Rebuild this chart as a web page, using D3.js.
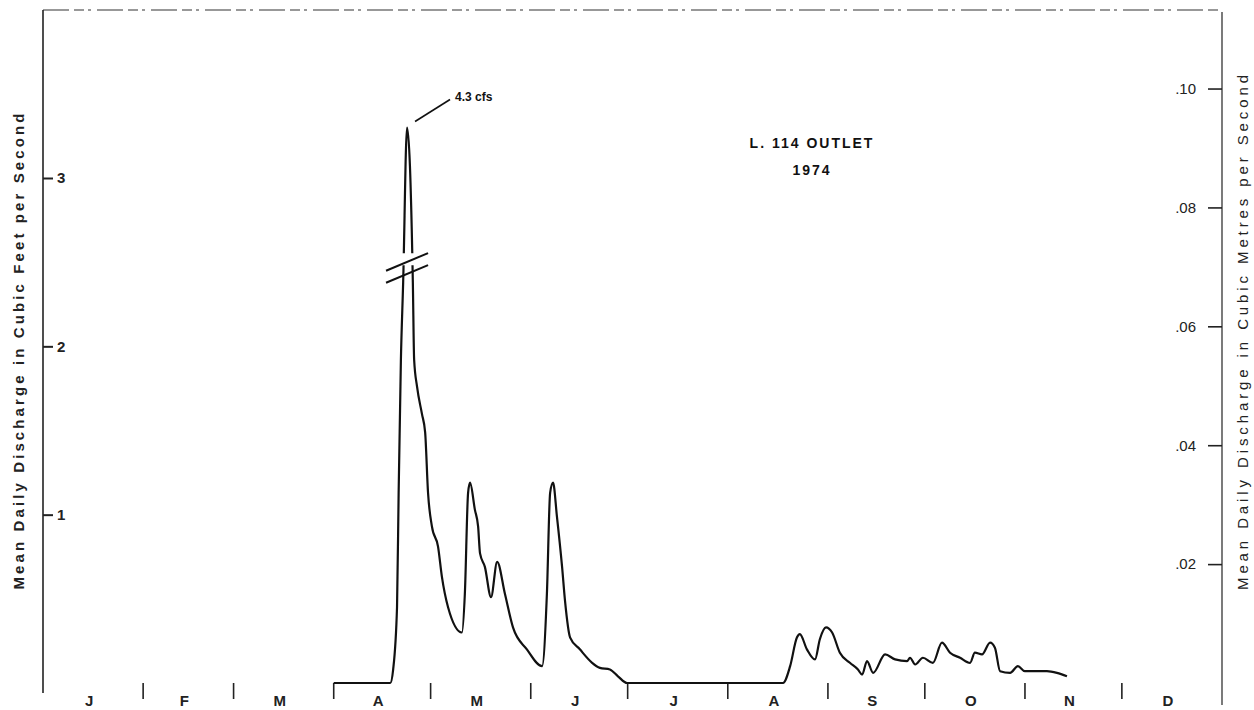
<!DOCTYPE html>
<html>
<head>
<meta charset="utf-8">
<script src="https://cdn.jsdelivr.net/npm/d3@7"></script>
<style>
  body { margin: 0; background: #fff; }
  svg { display: block; font-family: "Liberation Sans", Arial, sans-serif; }
</style>
</head>
<body>
<script>
const days = [90, 107.5, 108.4, 109.6, 110.1, 110.8, 111.5, 112.7, 114.5, 114.9, 115.8, 117.3, 118.3, 119.2,
  120.4, 122.3, 123.5, 125.4, 129.7, 130.6, 131.6, 132.2, 133.7, 134.7, 135.3, 136.8, 138.7, 140.6, 143.0,
  145.5, 149.8, 154.5, 156.0, 157.0, 157.9, 159.1, 160.7, 161.6, 163.2, 166.2, 170.0, 172.4, 175.5, 178.0,
  180.8, 229.1, 231.3, 233.4, 234.3, 236.5, 239.0, 240.5, 242.4, 244.3, 246.7, 249.8, 252.3, 253.6, 255.1,
  257.0, 260.7, 263.8, 267.5, 268.4, 270.0, 272.4, 275.5, 278.3, 280.8, 283.9, 287.0, 288.5, 290.7, 293.2,
  294.7, 296.3, 299.4, 301.8, 304.0, 306.5, 310.8, 313.9, 317.0];
const cfs = [0, 0, 0.08, 0.45, 1.13, 1.92, 2.38, 4.3, 2.38, 1.92, 1.76, 1.60, 1.49, 1.13,
  0.93, 0.81, 0.63, 0.45, 0.30, 0.53, 1.13, 1.19, 1.03, 0.93, 0.77, 0.69, 0.51, 0.72, 0.53,
  0.33, 0.20, 0.10, 0.53, 1.13, 1.19, 0.99, 0.69, 0.49, 0.27, 0.20, 0.12, 0.09, 0.08, 0.04,
  0, 0, 0.10, 0.27, 0.29, 0.20, 0.14, 0.26, 0.33, 0.30, 0.18, 0.12, 0.08, 0.05, 0.13,
  0.06, 0.17, 0.14, 0.13, 0.15, 0.11, 0.15, 0.12, 0.24, 0.18, 0.15, 0.12, 0.18, 0.17, 0.24,
  0.21, 0.07, 0.06, 0.10, 0.07, 0.07, 0.07, 0.06, 0.04];

const monthLabels = ["J", "F", "M", "A", "M", "J", "J", "A", "S", "O", "N", "D"];
const leftTicks = [1, 2, 3];
const rightTicks = [0.02, 0.04, 0.06, 0.08, 0.10];
const peakLabel = "4.3 cfs";
const breakAt = 2.43;      // cfs where the axis is broken
const peakDrawnAt = 3.3;   // where the 4.3 cfs peak sits on the drawing
const title = ["L. 114 OUTLET", "1974"];

const CFS_TO_CMS = 0.0283168;
const width = 1254, height = 710;
const margin = ({ top: 10, right: 32, bottom: 27, left: 43 });

const t0 = new Date(1974, 0, 1), t1 = new Date(1975, 0, 1);
const dayToDate = d => new Date(t0.getTime() + d * 864e5);

const x = d3.scaleTime()
  .domain([t0, t1])
  .range([margin.left, width - margin.right]);

const y = d3.scaleLinear()
  .domain([0, 3])
  .range([height - margin.bottom, 178]);

const yR = d3.scaleLinear()
  .domain([0, 3 * CFS_TO_CMS])
  .range(y.range());

// the line is drawn through a broken scale above breakAt
const yLine = d3.scaleLinear()
  .domain([0, breakAt, 4.3])
  .range([y(0), y(breakAt), y(peakDrawnAt)]);

const data = days.map((d, i) => ({ date: dayToDate(d), v: cfs[i] }));

const svg = d3.select("body").append("svg")
  .attr("width", width)
  .attr("height", height)
  .attr("viewBox", [0, 0, width, height]);

// top border, faint and broken
svg.append("line")
  .attr("x1", margin.left).attr("x2", width - margin.right)
  .attr("y1", margin.top).attr("y2", margin.top)
  .attr("stroke", "#777").attr("stroke-width", 1.3)
  .attr("stroke-dasharray", "26 5 10 4 3 6");

// left axis
svg.append("line")
  .attr("x1", margin.left).attr("x2", margin.left)
  .attr("y1", margin.top).attr("y2", 693)
  .attr("stroke", "#222").attr("stroke-width", 1.6);

svg.append("g")
  .attr("transform", `translate(${margin.left},0)`)
  .call(d3.axisRight(y).tickValues(leftTicks).tickSize(10).tickPadding(4).tickFormat(d3.format("d")))
  .call(g => g.select(".domain").remove())
  .call(g => g.selectAll("line").attr("stroke", "#222").attr("stroke-width", 2))
  .call(g => g.selectAll("text").attr("font-size", 15).attr("font-weight", "bold").attr("fill", "#222"));

// right axis
svg.append("line")
  .attr("x1", width - margin.right).attr("x2", width - margin.right)
  .attr("y1", 12).attr("y2", 705)
  .attr("stroke", "#333").attr("stroke-width", 1.3);

svg.append("g")
  .attr("transform", `translate(${width - margin.right},0)`)
  .call(d3.axisLeft(yR).tickValues(rightTicks).tickSize(14).tickPadding(12)
    .tickFormat(d => d3.format(".2f")(d).replace(/^0/, "")))
  .call(g => g.select(".domain").remove())
  .call(g => g.selectAll("line").attr("stroke", "#222").attr("stroke-width", 1.6))
  .call(g => g.selectAll("text").attr("font-size", 15).attr("fill", "#222"));

// axis titles
svg.append("text")
  .attr("transform", `translate(24,${(590 + 113) / 2}) rotate(-90)`)
  .attr("text-anchor", "middle")
  .attr("font-size", 15).attr("font-weight", "bold").attr("fill", "#222")
  .attr("textLength", 476).attr("lengthAdjust", "spacing")
  .text("Mean Daily Discharge in Cubic Feet per Second");

svg.append("text")
  .attr("transform", `translate(1248,${(590 + 75) / 2}) rotate(-90)`)
  .attr("text-anchor", "middle")
  .attr("font-size", 15).attr("fill", "#222")
  .attr("textLength", 515).attr("lengthAdjust", "spacing")
  .text("Mean Daily Discharge in Cubic Metres per Second");

// month separators and labels
const months = d3.timeMonth.range(t0, t1);
svg.append("g")
  .selectAll("line")
  .data(months.slice(1))
  .join("line")
  .attr("x1", d => x(d)).attr("x2", d => x(d))
  .attr("y1", y(0)).attr("y2", 699)
  .attr("stroke", "#222").attr("stroke-width", 1.6);

svg.append("g")
  .selectAll("text")
  .data(months)
  .join("text")
  .attr("x", d => (x(d) + x(d3.timeMonth.offset(d, 1))) / 2 - 4)
  .attr("y", 706)
  .attr("text-anchor", "middle")
  .attr("font-size", 15).attr("font-weight", "bold").attr("fill", "#222")
  .text((d, i) => monthLabels[i]);

// hydrograph
const line = d3.line()
  .x(d => x(d.date))
  .y(d => yLine(d.v))
  .curve(d3.curveMonotoneX);

svg.append("path")
  .datum(data)
  .attr("fill", "none")
  .attr("stroke", "#111")
  .attr("stroke-width", 2.2)
  .attr("stroke-linejoin", "round")
  .attr("d", line);

// axis break marks across the peak
const peak = data[d3.maxIndex(data, d => d.v)];
const bx = x(peak.date), by = yLine(breakAt) - 6;
const slope = -0.42, half = 21, gap = 6;
svg.append("path")
  .attr("fill", "#fff")
  .attr("d", `M${bx - half},${by - gap - slope * -half}L${bx + half},${by - gap + slope * half}`
    + `L${bx + half},${by + gap + slope * half}L${bx - half},${by + gap - slope * -half}Z`);
[-gap, gap].forEach(o => {
  svg.append("line")
    .attr("x1", bx - half).attr("y1", by + o - slope * half)
    .attr("x2", bx + half).attr("y2", by + o + slope * half)
    .attr("stroke", "#111").attr("stroke-width", 2);
});

// peak annotation
const px = x(peak.date), py = yLine(peak.v);
svg.append("line")
  .attr("x1", px + 8).attr("y1", py - 6)
  .attr("x2", px + 43).attr("y2", py - 28)
  .attr("stroke", "#111").attr("stroke-width", 1.6);
svg.append("text")
  .attr("x", px + 48).attr("y", py - 27)
  .attr("font-size", 12).attr("font-weight", "bold").attr("fill", "#111")
  .text(peakLabel);

// title
svg.append("g")
  .selectAll("text")
  .data(title)
  .join("text")
  .attr("x", 812)
  .attr("y", (d, i) => 148 + i * 27)
  .attr("text-anchor", "middle")
  .attr("font-size", 14).attr("font-weight", "bold").attr("fill", "#111")
  .attr("letter-spacing", 2)
  .text(d => d);
</script>
</body>
</html>
